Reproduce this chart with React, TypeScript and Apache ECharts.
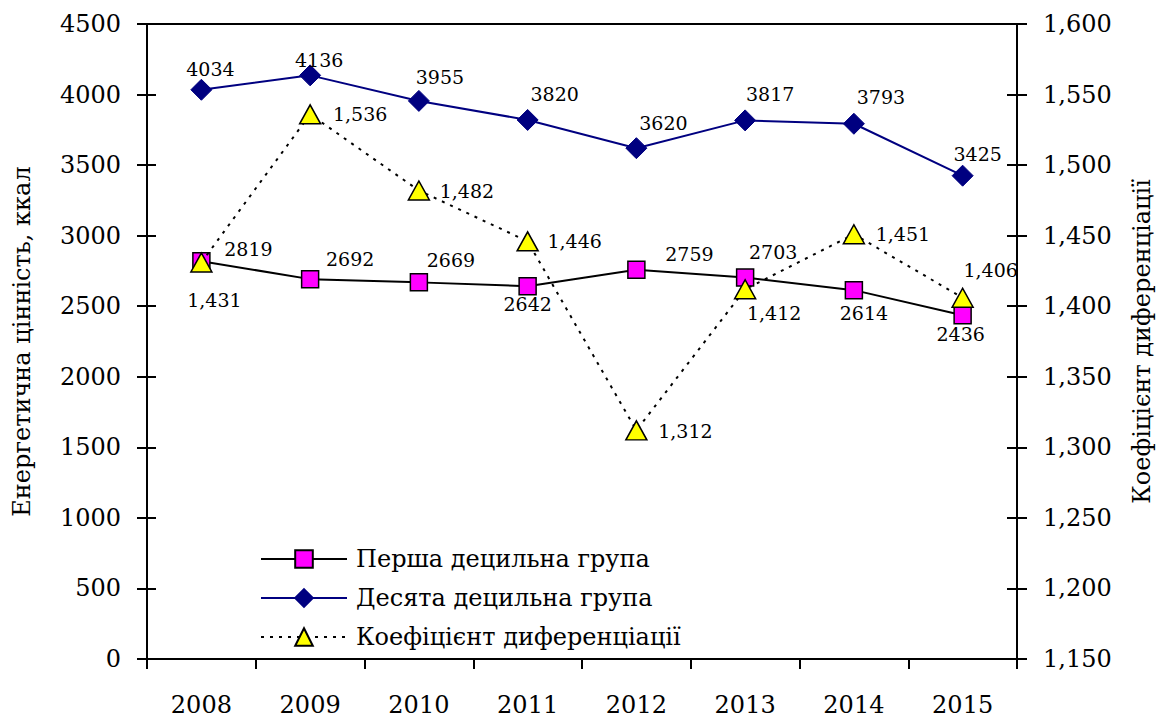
import React, { useEffect, useRef } from "react";
import * as echarts from "echarts";

const years = ["2008", "2009", "2010", "2011", "2012", "2013", "2014", "2015"];
const firstDecile = [2819, 2692, 2669, 2642, 2759, 2703, 2614, 2436];
const tenthDecile = [4034, 4136, 3955, 3820, 3620, 3817, 3793, 3425];
const coefficient = [1.431, 1.536, 1.482, 1.446, 1.312, 1.412, 1.451, 1.406];

const seriesNames = ["Перша децильна група", "Десята децильна група", "Коефіцієнт диференціації"];
const leftAxisName = "Енергетична цінність, ккал";
const rightAxisName = "Коефіцієнт диференціації";

// label offsets (label centre relative to marker centre)
const firstOffsets = [[47, -12], [40, -20], [32, -22], [0, 18], [53, -16], [28, -26], [10, 23], [-2, 19]];
const tenthOffsets = [[9, -21], [9, -15], [21, -24], [27, -26], [27, -25], [25, -26], [27, -27], [15, -22]];
const coefOffsets = [[13, 38], [50, 0], [48, 0], [47, 0], [49, 1], [29, 24], [49, 0], [28, -28]];

const FONT = "DejaVu Serif";
const fmt3 = (v: number) => v.toFixed(3).replace(".", ",");

function withLabels(values: number[], offsets: number[][]) {
  return values.map((v, i) => ({
    value: v,
    label: { position: "inside", offset: offsets[i] },
  }));
}

export default function App() {
  const ref = useRef<HTMLDivElement>(null);
  useEffect(() => {
    if (!ref.current) return;
    const chart = echarts.init(ref.current, null, { renderer: "svg" });
    const labelBase = {
      show: true,
      color: "#000",
      fontSize: 19,
      fontFamily: FONT,
    };
    const axisLabelBase = { color: "#000", fontSize: 24, fontFamily: FONT };
    const option: any = {
      animation: false,
      backgroundColor: "#fff",
      textStyle: { fontFamily: FONT },
      grid: {
        left: 147,
        right: 149,
        top: 24,
        bottom: 61,
        containLabel: false,
        show: true,
        borderColor: "#000",
        borderWidth: 2,
      },
      legend: {
        orient: "vertical",
        left: 260,
        top: 545,
        padding: 0,
        itemWidth: 86,
        itemHeight: 22,
        itemGap: 11,
        textStyle: { fontSize: 24, fontFamily: FONT, color: "#000", lineHeight: 28, padding: [0, 0, 0, 4] },
        data: seriesNames,
      },
      xAxis: {
        type: "category",
        data: years,
        boundaryGap: true,
        axisLine: { lineStyle: { color: "#000", width: 2 } },
        axisTick: { show: true, length: 10, alignWithLabel: false, lineStyle: { color: "#000", width: 2 } },
        axisLabel: { ...axisLabelBase, margin: 34 },
        splitLine: { show: false },
      },
      yAxis: [
        {
          type: "value",
          position: "left",
          min: 0,
          max: 4500,
          interval: 500,
          name: leftAxisName,
          nameLocation: "middle",
          nameRotate: 90,
          nameGap: 113,
          nameTextStyle: { fontSize: 24, fontFamily: FONT, color: "#000" },
          axisLine: { show: true, lineStyle: { color: "#000", width: 2 } },
          axisTick: { show: true, length: 10, lineStyle: { color: "#000", width: 2 } },
          axisLabel: { ...axisLabelBase, margin: 26, formatter: (v: number) => String(v) },
          splitLine: { show: false },
        },
        {
          type: "value",
          position: "right",
          min: 1.15,
          max: 1.6,
          interval: 0.05,
          name: rightAxisName,
          nameLocation: "middle",
          nameRotate: 90,
          nameGap: 113,
          nameTextStyle: { fontSize: 24, fontFamily: FONT, color: "#000" },
          axisLine: { show: true, lineStyle: { color: "#000", width: 2 } },
          axisTick: { show: true, length: 10, lineStyle: { color: "#000", width: 2 } },
          axisLabel: { ...axisLabelBase, margin: 26, formatter: (v: number) => fmt3(v) },
          splitLine: { show: false },
        },
        {
          type: "value",
          position: "left",
          min: 0,
          max: 4500,
          interval: 500,
          axisLine: { show: false },
          axisTick: { show: true, inside: true, length: 9, lineStyle: { color: "#000", width: 2 } },
          axisLabel: { show: false },
          splitLine: { show: false },
        },
        {
          type: "value",
          position: "right",
          min: 1.15,
          max: 1.6,
          interval: 0.05,
          axisLine: { show: false },
          axisTick: { show: true, inside: true, length: 10, lineStyle: { color: "#000", width: 2 } },
          axisLabel: { show: false },
          splitLine: { show: false },
        },
      ],
      series: [
        {
          name: seriesNames[0],
          type: "line",
          yAxisIndex: 0,
          data: withLabels(firstDecile, firstOffsets),
          symbol: "rect",
          symbolSize: 17,
          lineStyle: { color: "#000", width: 2 },
          itemStyle: { color: "#FF00FF", borderColor: "#000", borderWidth: 1.5 },
          label: { ...labelBase },
          z: 2,
        },
        {
          name: seriesNames[1],
          type: "line",
          yAxisIndex: 0,
          data: withLabels(tenthDecile, tenthOffsets),
          symbol: "diamond",
          symbolSize: 21,
          lineStyle: { color: "#000080", width: 2 },
          itemStyle: { color: "#000080", borderColor: "#000080", borderWidth: 1 },
          label: { ...labelBase },
          z: 3,
        },
        {
          name: seriesNames[2],
          type: "line",
          yAxisIndex: 1,
          data: withLabels(coefficient, coefOffsets),
          symbol: "triangle",
          symbolSize: [21, 19],
          lineStyle: { color: "#000", width: 2, type: [3, 6] },
          itemStyle: { color: "#FFFF00", borderColor: "#000", borderWidth: 1.5 },
          label: { ...labelBase, formatter: (p: any) => fmt3(p.value) },
          z: 4,
        },
      ],
    };
    chart.setOption(option);
    return () => chart.dispose();
  }, []);
  return (
    <div
      ref={ref}
      style={{ position: "fixed", left: 0, top: 0, width: 1166, height: 720, background: "#fff" }}
    />
  );
}
